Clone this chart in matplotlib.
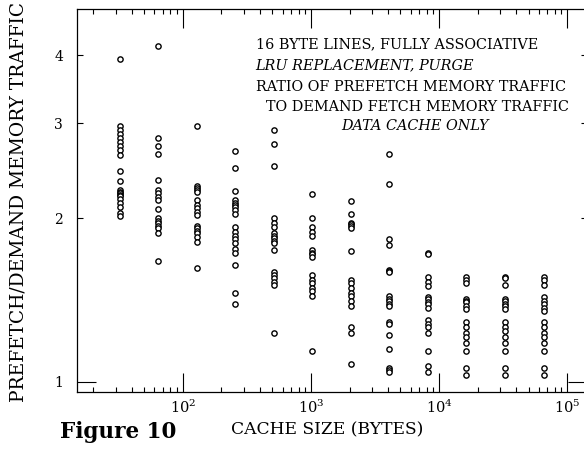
import matplotlib

matplotlib.use("Agg")
import matplotlib.pyplot as plt
from matplotlib.ticker import FixedLocator, FixedFormatter, LogLocator, NullFormatter

plt.rcParams["font.family"] = "DejaVu Serif"
plt.rcParams["mathtext.fontset"] = "dejavuserif"

# cache sizes (bytes) and the measured traffic ratio for each run at that size
sizes = [32, 64, 128, 256, 512, 1024, 2048, 4096, 8192, 16384, 32768, 65536]

ratio_32 = [3.94, 2.96, 2.91, 2.86, 2.81, 2.77, 2.72, 2.67, 2.62, 2.45, 2.35,
            2.26, 2.24, 2.23, 2.21, 2.20, 2.17, 2.14, 2.10, 2.05, 2.02]
ratio_64 = [4.16, 2.82, 2.72, 2.63, 2.36, 2.26, 2.23, 2.19, 2.16, 2.08, 2.00,
            1.98, 1.96, 1.94, 1.92, 1.88, 1.67]
ratio_128 = [2.96, 2.30, 2.28, 2.26, 2.24, 2.16, 2.12, 2.09, 2.06, 2.03, 1.94,
             1.92, 1.90, 1.88, 1.85, 1.81, 1.62]
ratio_256 = [2.66, 2.48, 2.25, 2.16, 2.14, 2.12, 2.10, 2.07, 2.04, 1.93, 1.89,
             1.86, 1.83, 1.80, 1.76, 1.73, 1.64, 1.46, 1.39]
ratio_512 = [2.91, 2.74, 2.50, 2.00, 1.96, 1.93, 1.88, 1.86, 1.84, 1.82, 1.80,
             1.75, 1.59, 1.57, 1.55, 1.53, 1.51, 1.23]
ratio_1k = [2.22, 2.00, 1.93, 1.89, 1.86, 1.75, 1.73, 1.72, 1.70, 1.57, 1.54,
            1.52, 1.49, 1.47, 1.44, 1.14]
ratio_2k = [2.15, 2.04, 1.96, 1.95, 1.94, 1.92, 1.74, 1.54, 1.52, 1.49, 1.46,
            1.44, 1.41, 1.38, 1.26, 1.23, 1.08]
ratio_4k = [2.63, 2.32, 1.83, 1.79, 1.61, 1.60, 1.59, 1.44, 1.42, 1.41, 1.39,
            1.38, 1.29, 1.28, 1.22, 1.15, 1.06, 1.05, 1.04]
ratio_8k = [1.73, 1.72, 1.56, 1.53, 1.50, 1.43, 1.42, 1.40, 1.39, 1.37, 1.30,
            1.28, 1.26, 1.23, 1.14, 1.07, 1.04]
ratio_16k = [1.56, 1.54, 1.52, 1.42, 1.41, 1.40, 1.38, 1.36, 1.29, 1.26, 1.23,
             1.21, 1.18, 1.14, 1.06, 1.03]
ratio_32k = [1.56, 1.55, 1.51, 1.42, 1.41, 1.39, 1.38, 1.36, 1.29, 1.26, 1.24,
             1.21, 1.18, 1.14, 1.06, 1.03]
ratio_64k = [1.56, 1.54, 1.51, 1.43, 1.41, 1.39, 1.37, 1.35, 1.29, 1.26, 1.23,
             1.21, 1.18, 1.14, 1.06, 1.03]

ratios = [ratio_32, ratio_64, ratio_128, ratio_256, ratio_512, ratio_1k,
          ratio_2k, ratio_4k, ratio_8k, ratio_16k, ratio_32k, ratio_64k]

y_ticks = [2, 3, 4]
notes = [
    "16 BYTE LINES, FULLY ASSOCIATIVE",
    "LRU REPLACEMENT, PURGE",
    "RATIO OF PREFETCH MEMORY TRAFFIC",
    "TO DEMAND FETCH MEMORY TRAFFIC",
    "DATA CACHE ONLY",
]

W, H = 584, 449
fig = plt.figure(figsize=(W / 100, H / 100), dpi=100)
ax = fig.add_axes([77 / W, 57 / H, 510 / W, 383 / H])

for s, vals in zip(sizes, ratios):
    ax.plot([s] * len(vals), vals, ls="none", marker="o", ms=3.8,
            mfc="white", mec="black", mew=1.0)

ax.set_xscale("log")
ax.set_yscale("log")
ax.set_xlim(14.9, 1.43e5)
ax.set_ylim(0.957, 4.87)

ax.xaxis.set_major_locator(LogLocator(base=10, numticks=10))
ax.xaxis.set_minor_locator(LogLocator(base=10, subs=range(2, 10), numticks=20))
ax.xaxis.set_minor_formatter(NullFormatter())
ax.yaxis.set_major_locator(FixedLocator([1]))
ax.yaxis.set_major_formatter(FixedFormatter(["1"]))
ax.yaxis.set_minor_locator(FixedLocator(y_ticks))
ax.yaxis.set_minor_formatter(FixedFormatter([str(t) for t in y_ticks]))

for sp in ax.spines.values():
    sp.set_linewidth(0.9)
ax.tick_params(which="both", direction="in", top=True, right=True, width=0.8)
ax.tick_params(axis="x", which="major", length=13.5, pad=5, labelsize=10.5)
ax.tick_params(axis="x", which="minor", length=3.6)
ax.tick_params(axis="y", which="major", length=14, pad=10, labelsize=10)
ax.tick_params(axis="y", which="minor", length=4.5, pad=10, labelsize=10)

# annotation block, positions in axes fraction
fs = 10.4
ax.text(0.350, 0.898, notes[0], transform=ax.transAxes, fontsize=fs)
ax.text(0.350, 0.843, notes[1], transform=ax.transAxes, fontsize=fs, style="italic")
ax.text(0.350, 0.786, notes[2], transform=ax.transAxes, fontsize=fs)
ax.text(0.370, 0.734, notes[3], transform=ax.transAxes, fontsize=fs)
ax.text(0.518, 0.684, notes[4], transform=ax.transAxes, fontsize=fs, style="italic")

fig.text(19 / W, (H - 402) / H, "PREFETCH/DEMAND MEMORY TRAFFIC", rotation=90,
         ha="center", va="bottom", fontsize=13.4)
fig.text(327 / W, (H - 434) / H, "CACHE SIZE (BYTES)", ha="center",
         va="baseline", fontsize=12.3)
fig.text(60 / W, (H - 438) / H, "Figure 10", ha="left", va="baseline",
         fontsize=15.5, fontweight="bold")

fig.savefig("out.png", dpi=100)
